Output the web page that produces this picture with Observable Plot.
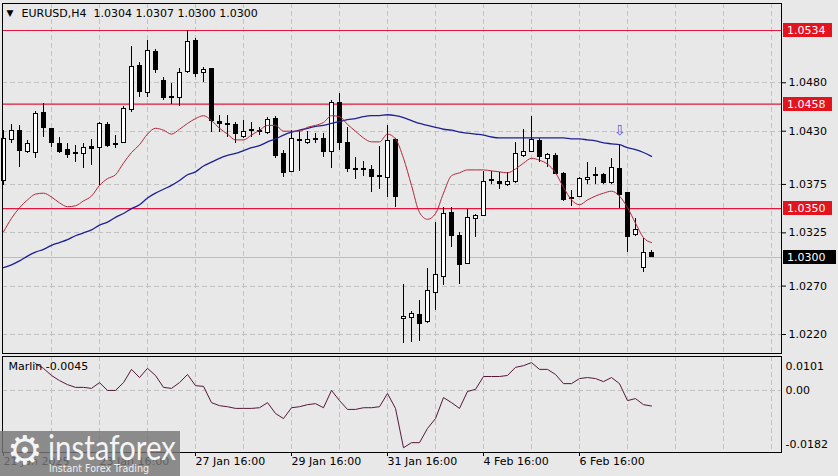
<!DOCTYPE html>
<html>
<head>
<meta charset="utf-8">
<script src="https://cdn.jsdelivr.net/npm/d3@7"></script>
<script src="https://cdn.jsdelivr.net/npm/@observablehq/plot@0.6"></script>
<style>
html,body{margin:0;padding:0;background:#e8e8e8;}
#wrap{position:relative;width:838px;height:476px;overflow:hidden;background:#e8e8e8;font-family:"DejaVu Sans",sans-serif;}
#main{position:absolute;left:0;top:0;}
#sub{position:absolute;left:0;top:353px;}
#wm{position:absolute;left:0;top:431px;width:180px;height:45px;}
</style>
</head>
<body>
<div id="wrap">
  <div id="main"></div>
  <div id="sub"></div>
  <svg id="wm" width="180" height="45" xmlns="http://www.w3.org/2000/svg">
    <rect x="0" y="0" width="180" height="45" fill="rgba(118,118,118,0.82)"/>
    <text x="25" y="33" text-anchor="middle" font-family="DejaVu Sans" font-size="40" fill="#f4f4f4">⚙</text>
    <text x="48" y="29" font-family="Lato, 'DejaVu Sans'" font-size="34" fill="#f4f4f4" textLength="128" lengthAdjust="spacingAndGlyphs">instaforex</text>
    <text x="49" y="41" font-family="'DejaVu Sans'" font-size="10" fill="#f0f0f0" textLength="100" lengthAdjust="spacingAndGlyphs">Instant Forex Trading</text>
  </svg>
</div>
<script>
// ---- data (EURUSD H4) ----
const opens = [1.0379,1.0421,1.0430,1.0409,1.0407,1.0449,1.0432,1.0417,1.0411,1.0407,
1.0406,1.0414,1.0413,1.0436,1.0416,1.0418,1.0452,1.0497,1.0469,1.0512,
1.0482,1.0465,1.0464,1.0491,1.0523,1.0490,1.0494,1.0440,1.0437,1.0436,
1.0424,1.0430,1.0429,1.0428,1.0443,1.0406,1.0388,1.0421,1.0418,1.0421,
1.0422,1.0409,1.0459,1.0418,1.0391,1.0391,1.0390,1.0383,1.0382,1.0421,
1.0236,1.0237,1.0240,1.0233,1.0263,1.0279,1.0345,1.0322,1.0293,1.0339,
1.0342,1.0379,1.0378,1.0374,1.0377,1.0404,1.0409,1.0420,1.0401,1.0404,
1.0386,1.0361,1.0362,1.0380,1.0384,1.0385,1.0376,1.0391,1.0366,1.0323,
1.0289,1.0304];
const highs = [1.0431,1.0437,1.0436,1.0420,1.0450,1.0459,1.0433,1.0423,1.0417,1.0415,
1.0417,1.0421,1.0439,1.0439,1.0426,1.0455,1.0517,1.0501,1.0524,1.0514,
1.0485,1.0479,1.0495,1.0534,1.0526,1.0496,1.0495,1.0446,1.0446,1.0439,
1.0441,1.0439,1.0434,1.0444,1.0445,1.0410,1.0431,1.0430,1.0430,1.0428,
1.0428,1.0462,1.0469,1.0434,1.0403,1.0399,1.0395,1.0414,1.0436,1.0422,
1.0272,1.0244,1.0255,1.0288,1.0336,1.0351,1.0351,1.0325,1.0349,1.0344,
1.0388,1.0388,1.0387,1.0387,1.0418,1.0432,1.0445,1.0422,1.0407,1.0407,
1.0387,1.0369,1.0382,1.0398,1.0392,1.0386,1.0402,1.0415,1.0367,1.0340,
1.0319,1.0307];
const lows = [1.0374,1.0417,1.0392,1.0407,1.0402,1.0423,1.0413,1.0407,1.0402,1.0398,
1.0391,1.0395,1.0374,1.0413,1.0412,1.0417,1.0449,1.0465,1.0465,1.0490,
1.0462,1.0458,1.0456,1.0490,1.0485,1.0480,1.0429,1.0429,1.0423,1.0417,
1.0422,1.0423,1.0426,1.0427,1.0402,1.0382,1.0387,1.0388,1.0416,1.0417,
1.0403,1.0391,1.0410,1.0387,1.0380,1.0383,1.0367,1.0370,1.0361,1.0351,
1.0211,1.0212,1.0213,1.0231,1.0245,1.0271,1.0310,1.0272,1.0292,1.0320,
1.0342,1.0375,1.0370,1.0373,1.0376,1.0403,1.0408,1.0398,1.0392,1.0385,
1.0357,1.0352,1.0361,1.0375,1.0375,1.0375,1.0375,1.0350,1.0305,1.0321,
1.0284,1.0300];
const closes = [1.0422,1.0430,1.0410,1.0417,1.0448,1.0433,1.0418,1.0409,1.0405,1.0406,
1.0413,1.0412,1.0437,1.0415,1.0417,1.0453,1.0496,1.0470,1.0513,1.0493,
1.0464,1.0464,1.0490,1.0522,1.0489,1.0493,1.0441,1.0437,1.0436,1.0427,
1.0429,1.0431,1.0430,1.0442,1.0404,1.0387,1.0422,1.0420,1.0421,1.0422,
1.0408,1.0459,1.0418,1.0391,1.0390,1.0390,1.0383,1.0384,1.0420,1.0362,
1.0238,1.0241,1.0231,1.0265,1.0281,1.0344,1.0322,1.0292,1.0340,1.0342,
1.0378,1.0380,1.0375,1.0378,1.0406,1.0409,1.0421,1.0403,1.0405,1.0386,
1.0359,1.0360,1.0381,1.0382,1.0385,1.0376,1.0392,1.0364,1.0321,1.0328,
1.0304,1.0300];
const maFast = [1.0326,1.0340,1.0351,1.0359,1.0365,1.0366,1.0362,1.0356,1.0352,1.0353,
1.0358,1.0363,1.0374,1.0381,1.0385,1.0397,1.0408,1.0416,1.0427,1.0433,
1.0431,1.0427,1.0432,1.0438,1.0443,1.0446,1.0441,1.0433,1.0427,1.0421,
1.0421,1.0426,1.0431,1.0436,1.0436,1.0430,1.0430,1.0430,1.0434,1.0436,
1.0439,1.0446,1.0445,1.0437,1.0430,1.0423,1.0419,1.0419,1.0427,1.0422,
1.0402,1.0374,1.0346,1.0339,1.0345,1.0366,1.0384,1.0387,1.0390,1.0390,
1.0390,1.0389,1.0388,1.0387,1.0391,1.0397,1.0402,1.0400,1.0396,1.0387,
1.0372,1.0359,1.0354,1.0359,1.0363,1.0366,1.0368,1.0363,1.0351,1.0335,
1.0320,1.0315];
const maSlow = [1.0289,1.0292,1.0296,1.0301,1.0305,1.0308,1.0312,1.0315,1.0318,1.0322,
1.0325,1.0328,1.0333,1.0336,1.0341,1.0345,1.0350,1.0354,1.0361,1.0366,
1.0370,1.0374,1.0379,1.0385,1.0388,1.0394,1.0398,1.0402,1.0405,1.0407,
1.0410,1.0413,1.0415,1.0419,1.0422,1.0426,1.0429,1.0431,1.0433,1.0435,
1.0436,1.0438,1.0440,1.0442,1.0443,1.0445,1.0446,1.0446,1.0447,1.0446,
1.0444,1.0441,1.0438,1.0436,1.0434,1.0432,1.0431,1.0429,1.0428,1.0427,
1.0426,1.0424,1.0423,1.0423,1.0423,1.0423,1.0423,1.0423,1.0423,1.0423,
1.0423,1.0422,1.0422,1.0421,1.0420,1.0418,1.0417,1.0416,1.0413,1.0411,
1.0408,1.0404];
const marlin = [null,null,null,null,0.0080,0.0066,0.0045,0.0030,0.0018,0.0010,
0.0010,0.0007,0.0024,0.0001,0.0001,0.0024,0.0063,0.0039,0.0066,0.0045,
0.0010,0.0007,0.0024,0.0048,0.0015,0.0013,-0.0035,-0.0044,-0.0047,-0.0052,
-0.0052,-0.0052,-0.0050,-0.0035,-0.0067,-0.0082,-0.0050,-0.0047,-0.0041,-0.0038,
-0.0050,0.0001,-0.0029,-0.0055,-0.0055,-0.0050,-0.0050,-0.0047,-0.0008,-0.0052,
-0.0168,-0.0153,-0.0153,-0.0111,-0.0082,-0.0020,-0.0035,-0.0052,-0.0002,0.0004,
0.0042,0.0042,0.0042,0.0045,0.0069,0.0074,0.0083,0.0063,0.0063,0.0048,
0.0021,0.0021,0.0036,0.0039,0.0036,0.0027,0.0039,0.0021,-0.0029,-0.0023,
-0.0041,-0.0045];

const priceTicks = [1.0480, 1.0430, 1.0375, 1.0325, 1.0270, 1.0220];
const levels = [1.0534, 1.0458, 1.0350];
const lastPrice = 1.0300;
const gridIdx = [6,12,18,24,30,36,42,48,54,60,66,72,78,84,90,96];
const xTickIdx = [0, 12, 24, 36, 48, 60, 72];
const xTickLabels = ["21 Jan 2025","23 Jan 16:00","27 Jan 16:00","29 Jan 16:00","31 Jan 16:00","4 Feb 16:00","6 Feb 16:00"];
const marlinLabels = [0.0101, 0.00, -0.0182];
const marlinLabelText = ["0.0101", "0.00", "-0.0182"];
const titleText = "EURUSD,H4  1.0304 1.0307 1.0300 1.0300";
const marlinTitle = "Marlin -0.0045";
const arrowBar = 77;

// ---- build ----
const candles = opens.map((o, i) => ({i, o, h: highs[i], l: lows[i], c: closes[i]}));
const fastData = maFast.map((v, i) => ({i, v}));
const slowData = maSlow.map((v, i) => ({i, v}));
const marlinData = marlin.map((v, i) => ({i, v})).filter(d => d.v !== null);

const xDomain = [-0.125, 97.25];
const font = {background: "transparent", fontFamily: "DejaVu Sans, sans-serif", fontSize: "11px", color: "#000", overflow: "visible"};
const NS = "http://www.w3.org/2000/svg";

function priceBoxes(items) {
  return (index, scales, values, dims) => {
    const g = document.createElementNS(NS, "g");
    const xr = dims.width - dims.marginRight;
    for (const it of items) {
      const y = Math.round(scales.y(it.value));
      const r = document.createElementNS(NS, "rect");
      r.setAttribute("x", xr + 2); r.setAttribute("y", y - 7);
      r.setAttribute("width", it.w); r.setAttribute("height", 14);
      r.setAttribute("fill", it.bg);
      g.appendChild(r);
      const t = document.createElementNS(NS, "text");
      t.setAttribute("x", xr + 6); t.setAttribute("y", y + 4);
      t.setAttribute("text-anchor", "start");
      t.setAttribute("fill", "#fff"); t.setAttribute("font-size", "11");
      t.setAttribute("font-family", "DejaVu Sans, sans-serif");
      t.textContent = d3.format(".4f")(it.value);
      g.appendChild(t);
    }
    return g;
  };
}

const boxItems = levels.map(v => ({value: v, bg: "#e3141e", w: 49}))
  .concat([{value: lastPrice, bg: "#000", w: 53}]);

const main = Plot.plot({
  width: 838, height: 356,
  marginLeft: 2, marginRight: 57, marginTop: 3, marginBottom: 3,
  style: font,
  x: {domain: xDomain, axis: null},
  y: {domain: [1.0200375, 1.0561888], axis: null},
  marks: [
    Plot.ruleX(gridIdx, {stroke: "#c2c2c2", strokeDasharray: "5,3", shapeRendering: "crispEdges"}),
    Plot.ruleY(priceTicks, {stroke: "#c2c2c2", strokeDasharray: "5,3", shapeRendering: "crispEdges"}),
    Plot.ruleY([lastPrice], {stroke: "#bcbcbc", shapeRendering: "crispEdges"}),
    Plot.ruleY(levels, {stroke: "#e3173d", strokeWidth: 1.2}),
    Plot.ruleX(candles, {x: "i", y1: "l", y2: "h", stroke: "#000", shapeRendering: "crispEdges"}),
    Plot.rect(candles.filter(d => d.c >= d.o), {x1: d => d.i - 0.25, x2: d => d.i + 0.25, y1: "o", y2: "c", fill: "#fff", stroke: "#000", shapeRendering: "crispEdges"}),
    Plot.rect(candles.filter(d => d.c < d.o), {x1: d => d.i - 0.25, x2: d => d.i + 0.25, y1: "o", y2: "c", fill: "#000", stroke: "#000", shapeRendering: "crispEdges"}),
    Plot.line(slowData, {x: "i", y: "v", stroke: "#1f1f96", strokeWidth: 1.3, curve: "monotone-x"}),
    Plot.line(fastData, {x: "i", y: "v", stroke: "#b0283e", strokeWidth: 1, curve: "monotone-x"}),
    Plot.text([candles[arrowBar]], {x: "i", y: "h", text: () => "⇩", dy: -15, fill: "#5b5bd6", fontSize: 14}),
    Plot.axisY({anchor: "right", ticks: priceTicks, tickSize: 4, tickPadding: 3, tickFormat: d3.format(".4f"), label: null}),
    Plot.frame({stroke: "#000"}),
    priceBoxes(boxItems),
    Plot.text(["▼"], {frameAnchor: "top-left", dx: 4, dy: 10, lineAnchor: "middle", fontSize: 9}),
    Plot.text([titleText], {frameAnchor: "top-left", dx: 19, dy: 10, lineAnchor: "middle", fontSize: 11})
  ]
});
document.getElementById("main").appendChild(main);

const sub = Plot.plot({
  width: 838, height: 123,
  marginLeft: 2, marginRight: 57, marginTop: 3, marginBottom: 24,
  style: font,
  x: {domain: xDomain, axis: null},
  y: {domain: [-0.0182, 0.0101], axis: null},
  marks: [
    Plot.ruleX(gridIdx, {stroke: "#c2c2c2", strokeDasharray: "5,3", shapeRendering: "crispEdges"}),
    Plot.ruleY([0], {stroke: "#c2c2c2", strokeDasharray: "5,3", shapeRendering: "crispEdges"}),
    Plot.line(marlinData, {x: "i", y: "v", stroke: "#55183a", strokeWidth: 1}),
    Plot.frame({stroke: "#000"}),
    Plot.axisX({anchor: "bottom", ticks: xTickIdx, tickSize: 4, tickPadding: 1, textAnchor: "start",
      tickFormat: d => xTickLabels[xTickIdx.indexOf(d)], label: null}),
    Plot.text(marlinLabels, {y: d => d, frameAnchor: "right", dx: 4, textAnchor: "start",
      text: (d, i) => marlinLabelText[i], fontSize: 11, lineAnchor: "middle"}),
    Plot.text([marlinTitle], {frameAnchor: "top-left", dx: 6, dy: 10, lineAnchor: "middle", fontSize: 11})
  ]
});
document.getElementById("sub").appendChild(sub);
// nudge top/bottom value labels inward as in the terminal
sub.querySelectorAll("text").forEach(t => {
  if (t.textContent === "0.0101") t.setAttribute("transform", (t.getAttribute("transform") || "") + " translate(0,10)");
  if (t.textContent === "-0.0182") t.setAttribute("transform", (t.getAttribute("transform") || "") + " translate(0,-8)");
});
</script>
</body>
</html>
